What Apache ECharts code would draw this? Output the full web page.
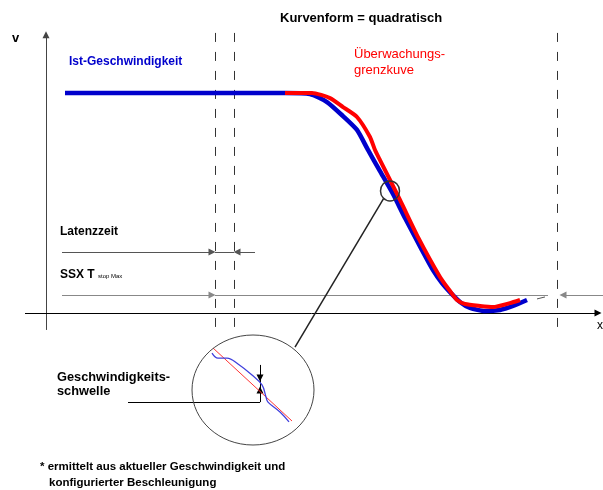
<!DOCTYPE html>
<html>
<head>
<meta charset="utf-8">
<script src="https://cdn.jsdelivr.net/npm/echarts@6/dist/echarts.min.js"></script>
<style>
html,body{margin:0;padding:0;background:#fff;}
#chart{width:603px;height:490px;}
</style>
</head>
<body>
<div id="chart"></div>
<script>
// Time (t) and speed (v) in diagram units; origin sits where the axes cross.
const T_RANGE = [-9.2, 111.4];
const V_RANGE = [-80.45, 142.27];

// Actual speed (Ist-Geschwindigkeit)
const istT = [3.8, 47.8, 52.8, 56.2, 59.4, 62.2, 64.4, 66.8, 69.4, 71.8, 75.2, 77.4, 79.2, 80.8, 82.8, 84.8, 87.8, 90.8, 93.4, 96.2];
const istV = [100, 100, 99.5, 95.9, 89.5, 83.2, 74.1, 64.5, 54.1, 43.2, 28.6, 19.5, 13.6, 9.5, 5.0, 2.3, 0.9, 1.4, 3.2, 5.9];

// Monitoring limit curve (Überwachungsgrenzkurve)
const grenzT = [47.8, 53.2, 56.8, 59.4, 62.2, 64.8, 65.8, 66.8, 70.8, 74.4, 78.8, 80.8, 82.2, 83.8, 86.8, 89.4, 92.8, 94.8];
const grenzV = [100, 100, 97.7, 93.6, 89.1, 80.0, 74.1, 69.5, 51.4, 34.5, 16.4, 10.0, 5.9, 4.1, 3.2, 2.7, 4.5, 5.9];

// Time markers: start of latency, end of latency, end of SSX T stop max
const markerT = [33.8, 37.6, 102.2];
const markerV = [127.3, -6.8];

// Arrow rows
const latenzV = 27.7;
const latenzT = [3.2, 41.8];
const ssxV = 8.2;
const ssxT = [3.2, 100.4, 102.8, 111.4];

// Magnified detail (inside the large ellipse)
const lupeIstT = [33.2, 34.4, 36.2, 38.4, 41.2, 43.2, 44.0, 44.4, 46.8, 48.6];
const lupeIstV = [-18.2, -20.5, -20.5, -23.2, -28.2, -32.7, -38.2, -40.5, -45.0, -49.5];
const lupeGrenzT = [33.4, 49.2];
const lupeGrenzV = [-15.9, -49.1];
const schwelleT = 42.8;
const schwelleV = [-23.6, -29.5, -35.0, -40.5];
const schwelleLabelT = 16.4;

// Detail lens: small circle on the curve, large magnified ellipse
const lensSmall = {t: 68.8, v: 55.5};
const lensLarge = {t: 41.4, v: -35};
const leaderT = [67.6, 49.8];
const leaderV = [52.3, -15.5];

const zip = (a, b) => a.map((x, i) => [x, b[i]]);

const chart = echarts.init(document.getElementById('chart'));

const segs = (list, style, symbol) => ({
  type: 'lines',
  coordinateSystem: 'cartesian2d',
  polyline: false,
  silent: true,
  symbol: symbol || ['none', 'none'],
  symbolSize: 7,
  lineStyle: style,
  data: list.map(c => ({coords: c}))
});

const option = {
  animation: false,
  grid: {left: 0, right: 0, top: 0, bottom: 0},
  xAxis: {type: 'value', min: T_RANGE[0], max: T_RANGE[1], show: false},
  yAxis: {type: 'value', min: V_RANGE[0], max: V_RANGE[1], show: false},
  series: [
    // axes
    segs([[[0, -7.7], [0, 126.5]]], {color: '#444', width: 1, opacity: 1}, ['none', 'triangle']),
    segs([[[-4.2, 0], [110.4, 0]]], {color: '#000', width: 1, opacity: 1}, ['none', 'triangle']),
    // dashed time markers
    segs(markerT.map(t => [[t, markerV[0]], [t, markerV[1]]]),
      {color: '#333', width: 1, type: [9, 10], opacity: 1}),
    // latency row
    segs([[[latenzT[0], latenzV], [markerT[0] - 0.6, latenzV]],
          [[latenzT[1], latenzV], [markerT[1] + 0.6, latenzV]]],
      {color: '#555', width: 1, opacity: 1}, ['none', 'triangle']),
    segs([[[markerT[0], latenzV], [markerT[1], latenzV]]], {color: '#555', width: 1, opacity: 1}),
    // SSX T stop max row
    segs([[[ssxT[0], ssxV], [markerT[0] - 0.6, ssxV]],
          [[ssxT[3], ssxV], [ssxT[2] + 0.6, ssxV]]],
      {color: '#888', width: 1.2, opacity: 1}, ['none', 'triangle']),
    segs([[[markerT[0], ssxV], [ssxT[1], ssxV]]], {color: '#888', width: 1.2, opacity: 1}),
    segs([[[98.2, 6.4], [99.8, 7.3]]], {color: '#555', width: 1, opacity: 1}),
    // curves
    {
      type: 'line', data: zip(istT, istV), showSymbol: false, symbol: 'none',
      smooth: 0.2, lineStyle: {color: '#0000cc', width: 4.5}, z: 3, silent: true
    },
    {
      type: 'line', data: zip(grenzT, grenzV), showSymbol: false, symbol: 'none',
      smooth: 0.2, lineStyle: {color: '#ff0000', width: 4}, z: 4, silent: true
    },
    // leader from small circle to magnified view
    segs([[[leaderT[0], leaderV[0]], [leaderT[1], leaderV[1]]]], {color: '#222', width: 1.5, opacity: 1}),
    // magnified view contents
    {
      type: 'line', data: zip(lupeGrenzT, lupeGrenzV), showSymbol: false, symbol: 'none',
      lineStyle: {color: '#ff3333', width: 1}, z: 5, silent: true
    },
    {
      type: 'line', data: zip(lupeIstT, lupeIstV), showSymbol: false, symbol: 'none',
      smooth: 0.4, lineStyle: {color: '#4040dd', width: 1.3}, z: 5, silent: true
    },
    segs([[[schwelleT, schwelleV[0]], [schwelleT, schwelleV[1]]],
          [[schwelleT, schwelleV[3]], [schwelleT, schwelleV[2]]]],
      {color: '#000', width: 1, opacity: 1}, ['none', 'triangle']),
    segs([[[schwelleT, schwelleV[1]], [schwelleT, schwelleV[2]]],
          [[schwelleLabelT, schwelleV[3]], [schwelleT, schwelleV[3]]]],
      {color: '#000', width: 1, opacity: 1})
  ]
};
chart.setOption(option);

const px = (t, v) => chart.convertToPixel({gridIndex: 0}, [t, v]);
const cS = px(lensSmall.t, lensSmall.v);
const cL = px(lensLarge.t, lensLarge.v);

const FONT = 'Liberation Sans, Arial, sans-serif';
const txt = (text, x, y, opts) => Object.assign({
  type: 'text', x: x, y: y, silent: true,
  style: Object.assign({text: text, fill: '#000', font: 'bold 12px ' + FONT, verticalAlign: 'middle'}, (opts || {}))
});

chart.setOption({
  graphic: [
    {type: 'ellipse', shape: {cx: cS[0], cy: cS[1], rx: 9.5, ry: 10}, style: {fill: null, stroke: '#333', lineWidth: 1.5}, z: 10, silent: true},
    {type: 'ellipse', shape: {cx: cL[0], cy: cL[1], rx: 61, ry: 55}, style: {fill: null, stroke: '#444', lineWidth: 1}, z: 10, silent: true},
    txt('Kurvenform = quadratisch', 280, 18, {font: 'bold 13px ' + FONT}),
    txt('v', 12, 38, {font: 'bold 13px ' + FONT}),
    txt('x', 597, 326, {font: '12px ' + FONT}),
    txt('Ist-Geschwindigkeit', 69, 62, {fill: '#0000cc'}),
    txt('Überwachungs-', 354, 54, {fill: '#ff0000', font: '13px ' + FONT}),
    txt('grenzkuve', 354, 70, {fill: '#ff0000', font: '13px ' + FONT}),
    txt('Latenzzeit', 60, 232),
    {
      type: 'text', x: 60, y: 275, silent: true,
      style: {
        text: '{a|SSX T} {b|stop Max}', verticalAlign: 'middle',
        rich: {
          a: {font: 'bold 12px ' + FONT, fill: '#000'},
          b: {font: '6px ' + FONT, fill: '#000', padding: [3, 0, 0, 0]}
        }
      }
    },
    txt('Geschwindigkeits-', 57, 377, {font: 'bold 12.8px ' + FONT}),
    txt('schwelle', 57, 391, {font: 'bold 12.8px ' + FONT}),
    txt('* ermittelt aus aktueller Geschwindigkeit und', 40, 467, {font: 'bold 11.5px ' + FONT}),
    txt('konfigurierter Beschleunigung', 49, 483, {font: 'bold 11.5px ' + FONT})
  ]
});
</script>
</body>
</html>
